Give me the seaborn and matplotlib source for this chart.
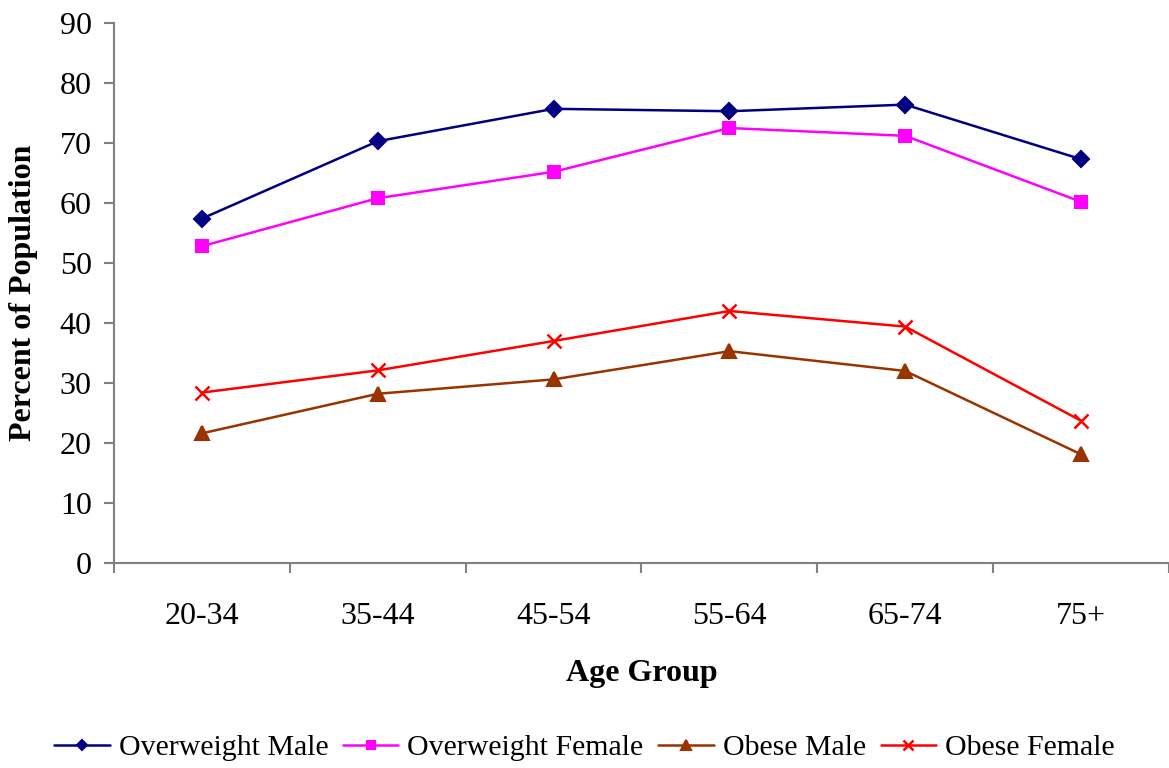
import matplotlib
matplotlib.use("Agg")
import matplotlib.pyplot as plt
import seaborn as sns
import pandas as pd
from matplotlib.ticker import FixedLocator, NullFormatter

age_groups = ["20-34", "35-44", "45-54", "55-64", "65-74", "75+"]
overweight_male = [57.4, 70.3, 75.7, 75.3, 76.4, 67.3]
overweight_female = [52.8, 60.8, 65.2, 72.5, 71.2, 60.2]
obese_male = [21.6, 28.2, 30.6, 35.3, 32.0, 18.1]
obese_female = [28.4, 32.1, 37.0, 42.0, 39.4, 23.7]
series_names = ["Overweight Male", "Overweight Female", "Obese Male", "Obese Female"]

sns.set_theme(style="white")
plt.rcParams["font.family"] = ["Liberation Serif", "DejaVu Serif"]
plt.rcParams["text.color"] = "black"
plt.rcParams["axes.labelcolor"] = "black"
plt.rcParams["xtick.color"] = "black"
plt.rcParams["ytick.color"] = "black"

fig = plt.figure(figsize=(11.69, 7.68), dpi=100)
ax = fig.add_axes([0.0975, 0.267, 0.9025, 0.703])

styles = [
    (overweight_male, "#000080", "D", 8, 1.5),
    (overweight_female, "#FF00FF", "s", 8, 1.5),
    (obese_male, "#993300", "^", 10, 1.5),
    (obese_female, "#FF0000", "x", 10, 1.8),
]
for name, (vals, col, mk, ms, mew) in zip(series_names, styles):
    df = pd.DataFrame({"Age Group": age_groups, "Percent": vals})
    sns.lineplot(data=df, x="Age Group", y="Percent", ax=ax, color=col,
                 marker=mk, markersize=ms, markeredgecolor=col,
                 markerfacecolor=col, markeredgewidth=mew, linewidth=1.8,
                 sort=False, label=name, legend=False)

ax.set_xlim(-0.5, 5.5)
ax.set_ylim(0, 90)
ax.set_yticks(range(0, 91, 10))
ax.set_xticks(range(len(age_groups)))
ax.set_xticklabels(age_groups)
ax.xaxis.set_minor_locator(FixedLocator([i - 0.5 for i in range(len(age_groups) + 1)]))
ax.xaxis.set_minor_formatter(NullFormatter())

for s in ["top", "right"]:
    ax.spines[s].set_visible(False)
for s in ["left", "bottom"]:
    ax.spines[s].set_color("#808080")
    ax.spines[s].set_linewidth(1.5)

ax.tick_params(axis="y", which="major", direction="out", length=7, width=1.5,
               color="#808080", labelcolor="black", labelsize=23, pad=9, left=True)
ax.tick_params(axis="x", which="major", length=0, labelsize=23, pad=28,
               labelcolor="black")
ax.tick_params(axis="x", which="minor", direction="out", length=7, width=1.5,
               color="#808080", bottom=True)

ax.set_xlabel("Age Group", fontsize=23, fontweight="bold", labelpad=20, color="black")
ax.set_ylabel("Percent of Population", fontsize=23, fontweight="bold", labelpad=16,
              color="black")

handles, labels = ax.get_legend_handles_labels()
fig.legend(handles, labels, loc="center", bbox_to_anchor=(0.5, 0.026),
           ncol=4, frameon=False, fontsize=21.5, handlelength=1.85,
           columnspacing=0.5, handletextpad=0.3, markerscale=0.7,
           borderpad=0.1)

fig.savefig("out.png", dpi=100)
